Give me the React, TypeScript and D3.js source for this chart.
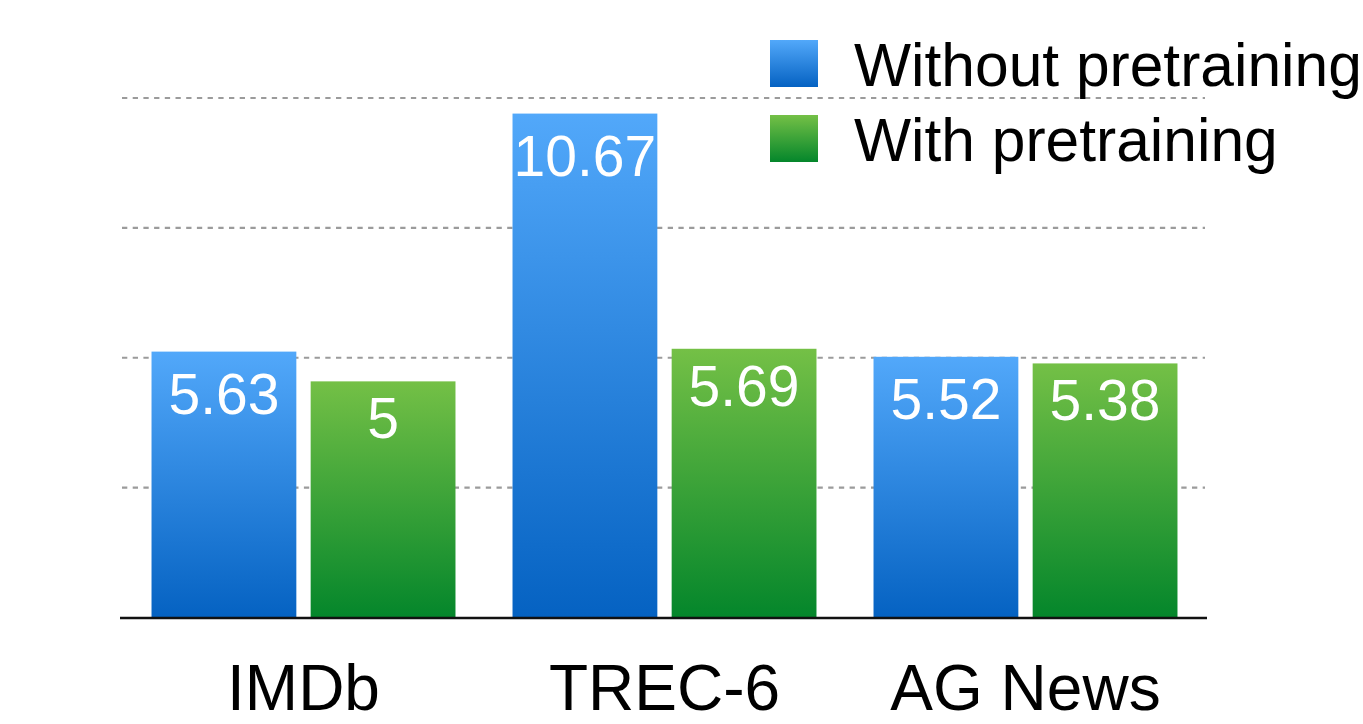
import React from "react";
import * as d3 from "d3";

const categories = ["IMDb", "TREC-6", "AG News"];
const seriesNames = ["Without pretraining", "With pretraining"];
const withoutPretraining = [5.63, 10.67, 5.52];
const withPretraining = [5, 5.69, 5.38];
const gridValues = [2.75, 5.5, 8.25, 11];
const yMax = 11;

const W = 1363;
const H = 724;
const FONT = "'Liberation Sans', Arial, Helvetica, sans-serif";

const gradients = [
  { id: "gBlue", top: "#52a8fa", bottom: "#0562c2" },
  { id: "gGreen", top: "#74c046", bottom: "#04862b" },
];
const labelOffset = [62, 57];

export default function App() {
  const y = d3.scaleLinear().domain([0, yMax]).range([617.5, 98]);
  const x0 = d3.scaleBand<string>().domain(categories).range([123, 1206]).paddingInner(0.158).paddingOuter(0.079);
  const x1 = d3.scaleBand<string>().domain(seriesNames).range([0, x0.bandwidth()]).paddingInner(0.09).paddingOuter(0);
  const values = [withoutPretraining, withPretraining];

  return (
    <svg width={W} height={H} style={{ position: "absolute", left: 0, top: 0, background: "#fff" }} fontFamily={FONT}>
      <defs>
        {gradients.map((g) => (
          <linearGradient key={g.id} id={g.id} x1="0" y1="0" x2="0" y2="1">
            <stop offset="0" stopColor={g.top} />
            <stop offset="1" stopColor={g.bottom} />
          </linearGradient>
        ))}
      </defs>
      {gridValues.map((v) => (
        <line key={v} x1={122} x2={1205} y1={y(v)} y2={y(v)} stroke="#9b9b9b" strokeWidth={2.2} strokeDasharray="5.3 5.4" />
      ))}
      {categories.map((c, ci) => (
        <g key={c} transform={`translate(${x0(c)},0)`}>
          {seriesNames.map((s, si) => {
            const v = values[si][ci];
            const bx = x1(s)!;
            const bw = x1.bandwidth();
            return (
              <g key={s}>
                <rect x={bx} y={y(v)} width={bw} height={y(0) - y(v)} fill={`url(#${gradients[si].id})`} />
                <text x={bx + bw / 2} y={y(v) + labelOffset[si]} textAnchor="middle" fill="#fff" fontSize={57}>
                  {String(v)}
                </text>
              </g>
            );
          })}
          <text x={x0.bandwidth() / 2} y={710} textAnchor="middle" fill="#000" fontSize={64}>
            {c}
          </text>
        </g>
      ))}
      <line x1={120} x2={1207} y1={618} y2={618} stroke="#111" strokeWidth={2.5} />
      {seriesNames.map((s, si) => (
        <g key={s}>
          <rect x={770} y={40 + si * 75} width={48} height={47} fill={`url(#${gradients[si].id})`} />
          <text x={854} y={86 + si * 75} fill="#000" fontSize={60.5}>
            {s}
          </text>
        </g>
      ))}
    </svg>
  );
}
